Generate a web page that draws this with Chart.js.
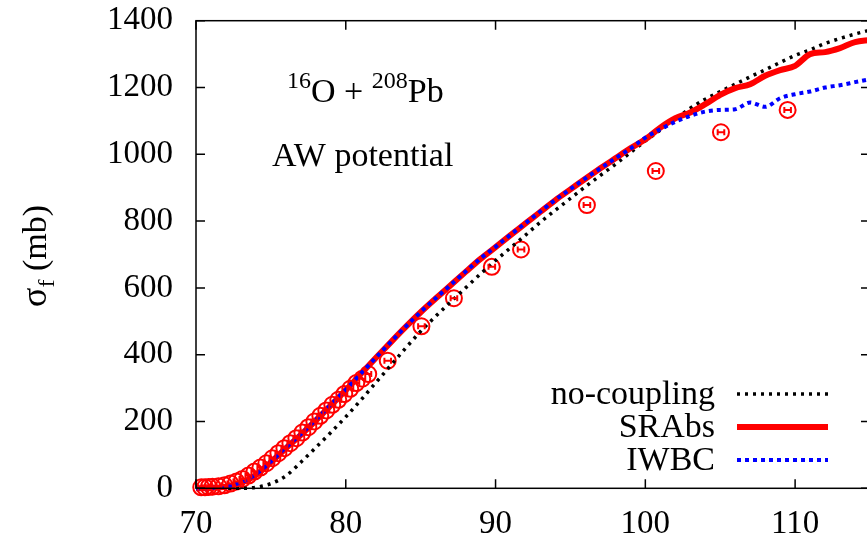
<!DOCTYPE html>
<html lang="en">
<head>
    <meta charset="UTF-8">
    <title>16O + 208Pb fission cross section</title>
    <script src="https://cdn.jsdelivr.net/npm/chart.js"></script>
    <style>
        body {
            margin: 0;
            padding: 0;
            background: #ffffff;
            overflow: hidden;
        }
        #wrap {
            width: 880px;
            height: 539px;
        }
    </style>
</head>
<body>
    <div id="wrap">
        <canvas id="sigmaChart" width="880" height="539"></canvas>
    </div>

    <script>
        // Calculated curves (E in MeV, sigma_f in mb)
        const energies = [70, 71, 72, 73, 74, 75, 76, 77, 78, 79, 80, 81, 82, 83, 84, 85, 86, 87, 88, 89,
            90, 91, 92, 93, 94, 95, 96, 97, 98, 99, 100, 101, 102, 103, 104, 105, 106, 107, 108, 109,
            110, 111, 112, 113, 114, 115];
        const noCoupling = [0, 0, 0, 0, 3, 14, 37, 78, 122, 167, 214, 264, 316, 368, 420, 470, 515, 558, 600, 642,
            682, 720, 758, 797, 833, 868, 903, 937, 970, 1005, 1040, 1072, 1105, 1138, 1165, 1188, 1210, 1232, 1253, 1275,
            1296, 1313, 1332, 1347, 1360, 1372];
        const srAbs = [0, 1, 5, 16, 40, 78, 120, 160, 203, 248, 294, 342, 390, 437, 483, 527, 568, 608, 648, 687,
            722, 758, 793, 828, 863, 895, 927, 958, 988, 1018, 1045, 1080, 1108, 1125, 1150, 1178, 1198, 1210, 1235, 1252,
            1265, 1300, 1306, 1318, 1336, 1342];
        const iwbc = [0, 1, 6, 18, 42, 80, 122, 162, 205, 250, 295, 343, 391, 438, 484, 528, 569, 609, 649, 688,
            723, 759, 794, 829, 864, 896, 928, 958, 988, 1017, 1050, 1075, 1097, 1115, 1128, 1133, 1135, 1155, 1142, 1168,
            1180, 1188, 1200, 1207, 1216, 1225];

        // Experimental points (energy error bars)
        const expE = [70.35, 70.6, 70.85, 71.1, 71.5, 71.9, 72.3, 72.7, 73.1, 73.5, 73.9, 74.3, 74.7, 75.1, 75.5,
            75.9, 76.3, 76.7, 77.1, 77.5, 77.9, 78.3, 78.7, 79.1, 79.5, 79.9, 80.3, 80.7, 81.1, 81.5,
            82.8, 85.05, 87.22, 89.75, 91.7, 96.1, 100.7, 105.05, 109.5];
        const expSigma = [3, 3, 4, 5, 6, 9, 14, 20, 28, 38, 50, 62, 75, 90, 105,
            120, 135, 150, 167, 183, 200, 217, 233, 250, 265, 282, 298, 315, 328, 342,
            382, 485, 569, 663, 715, 848, 950, 1066, 1133];
        const expErrE = [0.2, 0.2, 0.2, 0.2, 0.2, 0.2, 0.2, 0.2, 0.2, 0.2, 0.2, 0.2, 0.2, 0.2, 0.2,
            0.2, 0.2, 0.2, 0.2, 0.2, 0.2, 0.2, 0.2, 0.2, 0.2, 0.2, 0.2, 0.2, 0.2, 0.2,
            0.22, 0.22, 0.22, 0.22, 0.22, 0.22, 0.22, 0.22, 0.22];

        const xTicks = [70, 80, 90, 100, 110];
        const yTicks = [0, 200, 400, 600, 800, 1000, 1200, 1400];

        const serif = '"Liberation Serif", "DejaVu Serif", serif';

        function pairs(xs, ys) {
            return xs.map((x, i) => ({ x: x, y: ys[i] }));
        }

        // gnuplot style frame with inward ticks on all four sides, plus texts
        const framePlugin = {
            id: 'frame',
            afterDraw(chart) {
                const ctx = chart.ctx;
                const a = chart.chartArea;
                const xs = chart.scales.x;
                const ys = chart.scales.y;
                ctx.save();
                ctx.strokeStyle = '#000';
                ctx.lineWidth = 1.5;
                ctx.strokeRect(a.left, a.top, a.right - a.left, a.bottom - a.top);
                ctx.beginPath();
                xTicks.forEach(v => {
                    const px = xs.getPixelForValue(v);
                    ctx.moveTo(px, a.bottom); ctx.lineTo(px, a.bottom - 9);
                    ctx.moveTo(px, a.top); ctx.lineTo(px, a.top + 9);
                });
                yTicks.forEach(v => {
                    const py = ys.getPixelForValue(v);
                    ctx.moveTo(a.left, py); ctx.lineTo(a.left + 9, py);
                    ctx.moveTo(a.right, py); ctx.lineTo(a.right - 9, py);
                });
                ctx.stroke();

                // y axis title: sigma_f (mb)
                ctx.translate(46, 256);
                ctx.rotate(-Math.PI / 2);
                ctx.fillStyle = '#000';
                ctx.textBaseline = 'alphabetic';
                ctx.font = '36px ' + serif;
                const w1 = ctx.measureText('σ').width;
                ctx.font = '24px ' + serif;
                const w2 = ctx.measureText('f').width;
                ctx.font = '34px ' + serif;
                const w3 = ctx.measureText(' (mb)').width;
                let x0 = -(w1 + w2 + w3) / 2;
                ctx.font = '36px ' + serif;
                ctx.fillText('σ', x0, 0);
                x0 += w1;
                ctx.font = '24px ' + serif;
                ctx.fillText('f', x0, 8);
                x0 += w2;
                ctx.font = '34px ' + serif;
                ctx.fillText(' (mb)', x0, 0);
                ctx.restore();

                // annotation text
                ctx.save();
                ctx.fillStyle = '#000';
                let x = 287;
                const parts = [['16', 24, -14], ['O + ', 34, 0], ['208', 24, -14], ['Pb', 34, 0]];
                parts.forEach(p => {
                    ctx.font = p[1] + 'px ' + serif;
                    ctx.fillText(p[0], x, 102 + p[2]);
                    x += ctx.measureText(p[0]).width;
                });
                ctx.font = '34px ' + serif;
                ctx.fillText('AW potential', 272, 166);

                // legend
                const rows = [
                    { label: 'no-coupling', ds: chart.data.datasets[2], y: 394 },
                    { label: 'SRAbs', ds: chart.data.datasets[1], y: 427 },
                    { label: 'IWBC', ds: chart.data.datasets[0], y: 460 }
                ];
                ctx.textAlign = 'right';
                ctx.textBaseline = 'middle';
                rows.forEach(r => {
                    ctx.fillStyle = '#000';
                    ctx.fillText(r.label, 715, r.y + 1);
                    ctx.beginPath();
                    ctx.strokeStyle = r.ds.borderColor;
                    ctx.lineWidth = r.ds.borderWidth;
                    ctx.setLineDash(r.ds.borderDash || []);
                    ctx.moveTo(737, r.y);
                    ctx.lineTo(828, r.y);
                    ctx.stroke();
                });
                ctx.restore();
            }
        };

        // energy error bars on the measured points
        const errorBarPlugin = {
            id: 'errorBars',
            afterDatasetsDraw(chart) {
                const ctx = chart.ctx;
                const xs = chart.scales.x;
                const ys = chart.scales.y;
                ctx.save();
                ctx.strokeStyle = '#ff0000';
                ctx.lineWidth = 2;
                ctx.beginPath();
                expE.forEach((e, i) => {
                    const py = ys.getPixelForValue(expSigma[i]);
                    const l = xs.getPixelForValue(e - expErrE[i]);
                    const r = xs.getPixelForValue(e + expErrE[i]);
                    ctx.moveTo(l, py); ctx.lineTo(r, py);
                    ctx.moveTo(l, py - 3); ctx.lineTo(l, py + 3);
                    ctx.moveTo(r, py - 3); ctx.lineTo(r, py + 3);
                });
                ctx.stroke();
                ctx.restore();
            }
        };

        const ctx = document.getElementById('sigmaChart').getContext('2d');
        new Chart(ctx, {
            type: 'line',
            data: {
                datasets: [
                    {
                        label: 'IWBC',
                        data: pairs(energies, iwbc),
                        borderColor: '#0000ff',
                        borderWidth: 4,
                        borderDash: [4, 4],
                        pointRadius: 0,
                        fill: false,
                        cubicInterpolationMode: 'monotone'
                    },
                    {
                        label: 'SRAbs',
                        data: pairs(energies, srAbs),
                        borderColor: '#ff0000',
                        borderWidth: 6,
                        pointRadius: 0,
                        fill: false,
                        cubicInterpolationMode: 'monotone'
                    },
                    {
                        label: 'no-coupling',
                        data: pairs(energies, noCoupling),
                        borderColor: '#000000',
                        borderWidth: 3.5,
                        borderDash: [3, 5],
                        pointRadius: 0,
                        fill: false,
                        cubicInterpolationMode: 'monotone'
                    },
                    {
                        label: 'exp',
                        data: pairs(expE, expSigma),
                        showLine: false,
                        pointStyle: 'circle',
                        pointRadius: 8,
                        pointBorderWidth: 2,
                        pointBorderColor: '#ff0000',
                        pointBackgroundColor: 'rgba(0,0,0,0)'
                    }
                ]
            },
            options: {
                responsive: false,
                devicePixelRatio: 1,
                animation: false,
                clip: false,
                layout: {
                    padding: { left: 0, right: 10, top: 20.7, bottom: 0 }
                },
                plugins: {
                    legend: { display: false },
                    tooltip: { enabled: false }
                },
                scales: {
                    x: {
                        type: 'linear',
                        min: 70,
                        max: 115,
                        border: { display: false },
                        grid: { display: false },
                        afterFit(scale) {
                            scale.height = 50.7;
                            scale.paddingLeft = 0;
                            scale.paddingRight = 0;
                        },
                        afterBuildTicks(scale) { scale.ticks = xTicks.map(v => ({ value: v })); },
                        ticks: {
                            padding: 8,
                            color: '#000',
                            font: { family: serif, size: 33 },
                            callback: v => String(v)
                        }
                    },
                    y: {
                        min: 0,
                        max: 1400,
                        border: { display: false },
                        grid: { display: false },
                        afterFit(scale) {
                            scale.width = 196;
                            scale.paddingTop = 0;
                            scale.paddingBottom = 0;
                        },
                        afterBuildTicks(scale) { scale.ticks = yTicks.map(v => ({ value: v })); },
                        ticks: {
                            padding: 15,
                            color: '#000',
                            font: { family: serif, size: 33 },
                            callback: v => String(v)
                        }
                    }
                }
            },
            plugins: [framePlugin, errorBarPlugin]
        });
    </script>
</body>
</html>
